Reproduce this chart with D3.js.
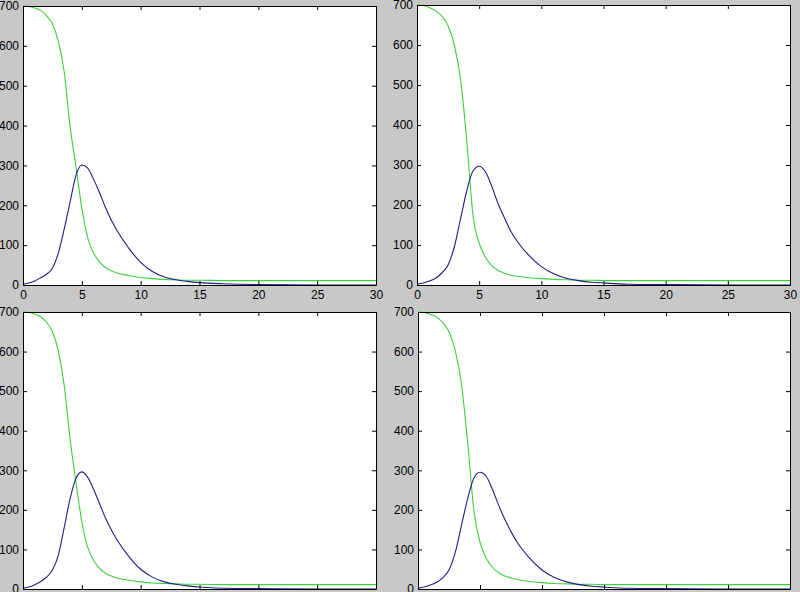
<!DOCTYPE html>
<html>
<head>
<meta charset="utf-8">
<script src="https://cdn.jsdelivr.net/npm/d3@7"></script>
<style>
  html, body { margin: 0; padding: 0; background: #c8c8c8; }
  svg { display: block; }
  .tick text { font-family: "Liberation Sans", Arial, sans-serif; font-size: 12px; fill: #000; }
</style>
</head>
<body>
<div id="chart"></div>
<script>
// sample times (shared by all four runs)
const time = [0, 0.5, 1, 1.5, 2, 2.5, 3, 3.5, 4, 4.5, 5, 5.5, 6, 6.5, 7, 7.5, 8, 9, 10, 11, 12, 13, 14, 15, 17, 20, 25, 30];

// run 1 (top left)
const susA = [700, 699, 695, 689, 676, 655, 612, 535, 398, 298, 193, 118, 80, 58, 44, 36, 30, 24, 19, 16, 14, 13, 12, 12, 11, 11, 11, 11];
const infA = [2, 5, 10, 18, 27, 42, 80, 140, 208, 275, 301, 293, 265, 232, 195, 163, 136, 92, 57, 34, 20, 13, 9, 6, 3, 1, 0, 0];

// run 2 (top right)
const susB = [700, 699, 694, 686, 672, 648, 600, 515, 362, 175, 105, 70, 49, 37, 30, 25, 22, 18, 16, 14, 13, 12, 12, 11, 11, 11, 11, 11];
const infB = [2, 5, 10, 17, 30, 50, 95, 165, 235, 285, 297, 283, 248, 205, 170, 137, 112, 74, 46, 28, 17, 11, 7, 5, 2, 1, 0, 0];

// run 3 (bottom left)
const susC = [700, 699, 695, 688, 674, 650, 602, 515, 380, 270, 170, 105, 72, 52, 40, 33, 28, 22, 18, 15, 14, 13, 12, 12, 11, 11, 11, 11];
const infC = [2, 5, 11, 19, 30, 48, 85, 155, 228, 280, 296, 282, 252, 216, 180, 150, 124, 82, 50, 30, 18, 12, 8, 5, 2, 1, 0, 0];

// run 4 (bottom right)
const susD = [700, 699, 694, 687, 673, 650, 603, 520, 372, 200, 118, 78, 55, 41, 33, 28, 24, 19, 16, 14, 13, 12, 12, 11, 11, 11, 11, 11];
const infD = [2, 5, 10, 17, 29, 48, 92, 160, 228, 280, 295, 285, 252, 212, 176, 145, 118, 78, 48, 29, 18, 11, 7, 5, 2, 1, 0, 0];

const xTicks = [0, 5, 10, 15, 20, 25, 30];
const yTicks = [0, 100, 200, 300, 400, 500, 600, 700];

const panels = [
  { left: 23, right: 376, top: 6, bottom: 285, sus: susA, inf: infA },
  { left: 417, right: 790, top: 5, bottom: 285, sus: susB, inf: infB },
  { left: 23, right: 376, top: 312, bottom: 589, sus: susC, inf: infC },
  { left: 418, right: 790, top: 312, bottom: 589, sus: susD, inf: infD }
];

const svg = d3.select("#chart")
  .append("svg")
  .attr("width", 800)
  .attr("height", 592);

panels.forEach(function (p) {
  const x = d3.scaleLinear().domain([0, 30]).range([p.left, p.right]);
  const y = d3.scaleLinear().domain([0, 700]).range([p.bottom, p.top]);

  const g = svg.append("g");

  g.append("rect")
    .attr("x", p.left)
    .attr("y", p.top)
    .attr("width", p.right - p.left)
    .attr("height", p.bottom - p.top)
    .attr("fill", "#fff");

  const line = d3.line()
    .x((d, i) => x(time[i]))
    .y((d) => y(d))
    .curve(d3.curveMonotoneX);

  g.append("path")
    .datum(p.sus)
    .attr("d", line)
    .attr("fill", "none")
    .attr("stroke", "#3fcf3f")
    .attr("stroke-width", 1.1);

  g.append("path")
    .datum(p.inf)
    .attr("d", line)
    .attr("fill", "none")
    .attr("stroke", "#1e1e86")
    .attr("stroke-width", 1.1);

  // axes with inward ticks on all four sides
  g.append("g")
    .attr("transform", `translate(0,${p.bottom})`)
    .call(d3.axisBottom(x).tickValues(xTicks).tickSizeInner(-4).tickSizeOuter(0).tickPadding(5));

  g.append("g")
    .attr("transform", `translate(0,${p.top})`)
    .call(d3.axisTop(x).tickValues(xTicks).tickSizeInner(-4).tickSizeOuter(0).tickFormat(""));

  g.append("g")
    .attr("transform", `translate(${p.left},0)`)
    .call(d3.axisLeft(y).tickValues(yTicks).tickSizeInner(-4).tickSizeOuter(0).tickPadding(4));

  g.append("g")
    .attr("transform", `translate(${p.right},0)`)
    .call(d3.axisRight(y).tickValues(yTicks).tickSizeInner(-4).tickSizeOuter(0).tickFormat(""));

  g.selectAll(".domain").attr("stroke", "#000");
  g.selectAll(".tick line").attr("stroke", "#000");
});
</script>
</body>
</html>
